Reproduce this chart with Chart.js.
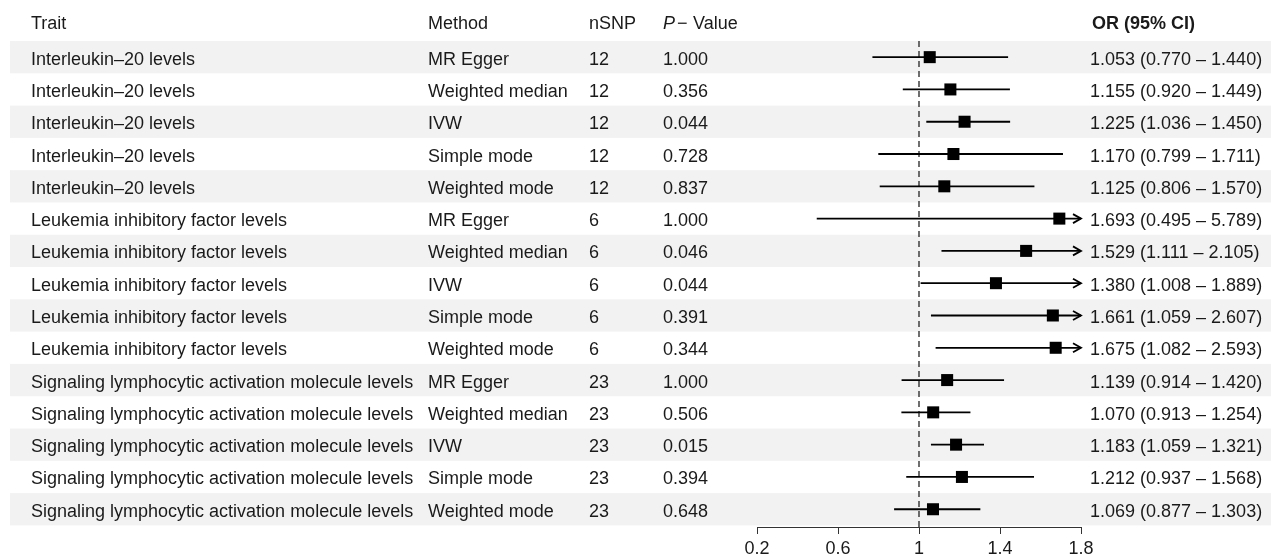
<!DOCTYPE html>
<html>
<head>
<meta charset="utf-8">
<script src="https://cdn.jsdelivr.net/npm/chart.js@4/dist/chart.umd.min.js"></script>
<style>
  html, body { margin: 0; padding: 0; background: #ffffff; }
  #wrap { width: 1271px; height: 556px; position: relative; }
</style>
</head>
<body>
<div id="wrap"><canvas id="forest"></canvas></div>
<script>
// Table columns
const traits = [
  'Interleukin–20 levels', 'Interleukin–20 levels', 'Interleukin–20 levels', 'Interleukin–20 levels', 'Interleukin–20 levels',
  'Leukemia inhibitory factor levels', 'Leukemia inhibitory factor levels', 'Leukemia inhibitory factor levels',
  'Leukemia inhibitory factor levels', 'Leukemia inhibitory factor levels',
  'Signaling lymphocytic activation molecule levels', 'Signaling lymphocytic activation molecule levels',
  'Signaling lymphocytic activation molecule levels', 'Signaling lymphocytic activation molecule levels',
  'Signaling lymphocytic activation molecule levels'
];
const methods = [
  'MR Egger', 'Weighted median', 'IVW', 'Simple mode', 'Weighted mode',
  'MR Egger', 'Weighted median', 'IVW', 'Simple mode', 'Weighted mode',
  'MR Egger', 'Weighted median', 'IVW', 'Simple mode', 'Weighted mode'
];
const nSNP = [12, 12, 12, 12, 12, 6, 6, 6, 6, 6, 23, 23, 23, 23, 23];
const pValues = [1.000, 0.356, 0.044, 0.728, 0.837, 1.000, 0.046, 0.044, 0.391, 0.344, 1.000, 0.506, 0.015, 0.394, 0.648];

// Odds ratios with 95% confidence limits
const orValues = [1.053, 1.155, 1.225, 1.170, 1.125, 1.693, 1.529, 1.380, 1.661, 1.675, 1.139, 1.070, 1.183, 1.212, 1.069];
const ciLower  = [0.770, 0.920, 1.036, 0.799, 0.806, 0.495, 1.111, 1.008, 1.059, 1.082, 0.914, 0.913, 1.059, 0.937, 0.877];
const ciUpper  = [1.440, 1.449, 1.450, 1.711, 1.570, 5.789, 2.105, 1.889, 2.607, 2.593, 1.420, 1.254, 1.321, 1.568, 1.303];

// Axis
const xTicks = [0.2, 0.6, 1, 1.4, 1.8];
const xMin = 0.2, xMax = 1.8, refValue = 1;

const FONT = '"Liberation Sans", Arial, Helvetica, sans-serif';
const FSIZE = 18;
const TXT = '#1a1a1a';
const nRows = orValues.length;
const yTop = 0.5, yBottom = nRows + 0.55;

const datasets = [];
// point estimates
datasets.push({
  label: 'OR',
  data: orValues.map((v, i) => ({ x: v, y: i + 1 })),
  showLine: false,
  pointStyle: 'rect',
  pointRadius: 8.5,
  pointHoverRadius: 8.5,
  pointBackgroundColor: '#000000',
  pointBorderWidth: 0,
  order: 0
});
// confidence intervals, cut at the axis end (arrowheads mark the overflow)
orValues.forEach((v, i) => {
  datasets.push({
    label: 'CI ' + (i + 1),
    data: [
      { x: Math.max(ciLower[i], xMin), y: i + 1 },
      { x: Math.min(ciUpper[i], xMax), y: i + 1 }
    ],
    showLine: true,
    borderColor: '#000000',
    borderWidth: 1.8,
    pointRadius: 0,
    order: 1
  });
});
// reference line at OR = 1
datasets.push({
  label: 'ref',
  data: [{ x: refValue, y: yTop }, { x: refValue, y: yBottom }],
  showLine: true,
  borderColor: '#222222',
  borderWidth: 1.3,
  borderDash: [6, 4],
  pointRadius: 0,
  order: 2
});

const tablePlugin = {
  id: 'forestTable',
  beforeDraw(chart) {
    const ctx = chart.ctx;
    const ys = chart.scales.y;
    ctx.save();
    ctx.fillStyle = '#ffffff';
    ctx.fillRect(0, 0, chart.width, chart.height);
    // zebra rows
    ctx.fillStyle = '#f2f2f2';
    for (let i = 0; i < nRows; i += 2) {
      const t = ys.getPixelForValue(i + 0.5);
      const b = ys.getPixelForValue(i + 1.5);
      ctx.fillRect(10, t, chart.width - 10, b - t);
    }
    // header
    ctx.fillStyle = TXT;
    ctx.textBaseline = 'alphabetic';
    const hy = 29;
    ctx.font = FSIZE + 'px ' + FONT;
    ctx.fillText('Trait', 31, hy);
    ctx.fillText('Method', 428, hy);
    ctx.fillText('nSNP', 589, hy);
    ctx.font = 'italic ' + FSIZE + 'px ' + FONT;
    ctx.fillText('P', 663, hy);
    const pw = ctx.measureText('P').width;
    ctx.font = FSIZE + 'px ' + FONT;
    ctx.fillText('\u2212', 663 + pw + 2, hy);
    ctx.fillText('Value', 663 + pw + 18, hy);
    ctx.font = 'bold ' + FSIZE + 'px ' + FONT;
    ctx.fillText('OR (95% CI)', 1092, hy);
    // rows
    ctx.font = FSIZE + 'px ' + FONT;
    for (let i = 0; i < nRows; i++) {
      const y = ys.getPixelForValue(i + 1) + 7.5;
      ctx.fillText(traits[i], 31, y);
      ctx.fillText(methods[i], 428, y);
      ctx.fillText(String(nSNP[i]), 589, y);
      ctx.fillText(pValues[i].toFixed(3), 663, y);
      ctx.fillText(orValues[i].toFixed(3) + ' (' + ciLower[i].toFixed(3) + ' \u2013 ' + ciUpper[i].toFixed(3) + ')', 1090, y);
    }
    ctx.restore();
  },
  afterDatasetsDraw(chart) {
    const ctx = chart.ctx;
    const xs = chart.scales.x, ys = chart.scales.y;
    ctx.save();
    ctx.strokeStyle = '#000000';
    ctx.lineWidth = 1.8;
    for (let i = 0; i < nRows; i++) {
      if (ciUpper[i] > xMax) {
        const tip = xs.getPixelForValue(xMax);
        const y = ys.getPixelForValue(i + 1);
        ctx.beginPath();
        ctx.moveTo(tip - 8, y - 4.5);
        ctx.lineTo(tip, y);
        ctx.lineTo(tip - 8, y + 4.5);
        ctx.stroke();
      }
    }
    ctx.restore();
  }
};

new Chart(document.getElementById('forest'), {
  type: 'scatter',
  data: { datasets },
  options: {
    responsive: true,
    maintainAspectRatio: false,
    animation: false,
    events: [],
    layout: { padding: { left: 757, right: 190, top: 41, bottom: 0 } },
    plugins: { legend: { display: false }, tooltip: { enabled: false } },
    scales: {
      x: {
        type: 'linear',
        min: xMin,
        max: xMax,
        afterBuildTicks: (s) => { s.ticks = xTicks.map(v => ({ value: v })); },
        afterFit: (s) => { s.height = 29; },
        grid: { display: true, drawOnChartArea: false, drawTicks: true, tickLength: 7, tickWidth: 1, tickColor: '#333333' },
        border: { display: true, color: '#333333', width: 1 },
        ticks: {
          padding: 4,
          color: TXT,
          font: { family: FONT, size: FSIZE },
          maxRotation: 0,
          callback: (v) => String(+Number(v).toFixed(1))
        }
      },
      y: {
        type: 'linear',
        display: false,
        reverse: true,
        min: yTop,
        max: yBottom
      }
    }
  },
  plugins: [tablePlugin]
});
</script>
</body>
</html>
